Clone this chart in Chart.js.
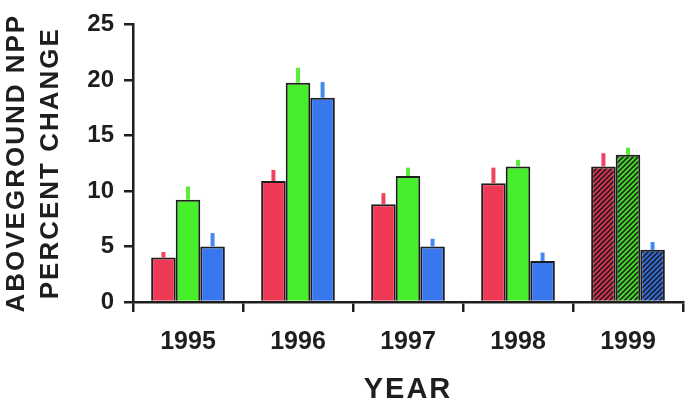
<!DOCTYPE html>
<html lang="en">
<head>
    <meta charset="UTF-8">
    <title>Aboveground NPP Percent Change</title>
    <script src="https://cdn.jsdelivr.net/npm/chart.js"></script>
    <style>
        body {
            margin: 0;
            padding: 0;
            background: #fff;
        }

        .wrap {
            width: 687px;
            height: 408px;
        }
    </style>
</head>
<body>
    <div class="wrap">
        <canvas id="npp-chart" width="687" height="408"></canvas>
    </div>

    <script>
        const years = ['1995', '1996', '1997', '1998', '1999'];
        const yTicks = [0, 5, 10, 15, 20, 25];

        const redValues = [4.0, 10.9, 8.8, 10.7, 12.2];
        const greenValues = [9.2, 19.75, 11.35, 12.2, 13.25];
        const blueValues = [5.0, 18.4, 5.0, 3.7, 4.7];

        // upper error only
        const redErrors = [0.5, 1.0, 1.0, 1.4, 1.2];
        const greenErrors = [1.2, 1.35, 0.75, 0.6, 0.65];
        const blueErrors = [1.2, 1.4, 0.7, 0.75, 0.7];

        const hatchedYear = '1999';
        const ink = '#1e1e1e';

        function hatch(color) {
            const size = 5;
            const c = document.createElement('canvas');
            c.width = size;
            c.height = size;
            const g = c.getContext('2d');
            g.fillStyle = color;
            g.fillRect(0, 0, size, size);
            g.strokeStyle = 'rgba(25, 20, 25, 0.9)';
            g.lineWidth = 1.6;
            g.beginPath();
            g.moveTo(-1, size + 1);
            g.lineTo(size + 1, -1);
            g.moveTo(-1, 1);
            g.lineTo(1, -1);
            g.moveTo(size - 1, size + 1);
            g.lineTo(size + 1, size - 1);
            g.stroke();
            return g.createPattern(c, 'repeat');
        }

        function fills(color, hatchColor) {
            return years.map(y => y === hatchedYear ? hatch(hatchColor) : color);
        }

        const errorBars = {
            id: 'errorBars',
            afterDatasetsDraw(chart) {
                const ctx = chart.ctx;
                const yScale = chart.scales.y;
                chart.data.datasets.forEach((ds, i) => {
                    const meta = chart.getDatasetMeta(i);
                    meta.data.forEach((bar, j) => {
                        const top = yScale.getPixelForValue(ds.data[j] + ds.errors[j]);
                        ctx.save();
                        ctx.strokeStyle = ds.errorColor;
                        ctx.lineWidth = 4;
                        ctx.beginPath();
                        ctx.moveTo(bar.x, bar.y);
                        ctx.lineTo(bar.x, top);
                        ctx.stroke();
                        ctx.restore();
                    });
                });
            }
        };

        // axis titles are set a little wider than the tick labels
        const titleSpacing = {
            id: 'titleSpacing',
            beforeDraw(chart) {
                chart.ctx.letterSpacing = '2px';
            },
            beforeDatasetsDraw(chart) {
                chart.ctx.letterSpacing = '0px';
            }
        };

        const fontFamily = '"Liberation Sans", Arial, sans-serif';

        new Chart(document.getElementById('npp-chart'), {
            type: 'bar',
            data: {
                labels: years,
                datasets: [{
                    data: redValues,
                    errors: redErrors,
                    errorColor: '#ee4460',
                    backgroundColor: fills('#ef3a55', '#d8384f'),
                    borderColor: ink,
                    borderWidth: 2,
                }, {
                    data: greenValues,
                    errors: greenErrors,
                    errorColor: '#58ee3a',
                    backgroundColor: fills('#46ee2c', '#46de2c'),
                    borderColor: ink,
                    borderWidth: 2,
                }, {
                    data: blueValues,
                    errors: blueErrors,
                    errorColor: '#4488f0',
                    backgroundColor: fills('#3877ee', '#3470dc'),
                    borderColor: ink,
                    borderWidth: 2,
                }],
            },
            options: {
                responsive: false,
                animation: false,
                categoryPercentage: 0.67,
                barPercentage: 1.0,
                layout: {
                    padding: { top: 15, right: 4, left: 0, bottom: 0 }
                },
                plugins: {
                    legend: { display: false },
                    tooltip: { enabled: false },
                },
                scales: {
                    x: {
                        afterFit(scale) { scale.height = 106; },
                        border: { color: ink, width: 2.5, z: 1 },
                        grid: {
                            offset: true,
                            drawOnChartArea: false,
                            color: ink,
                            lineWidth: 2.5,
                            tickLength: 10,
                        },
                        ticks: {
                            color: ink,
                            padding: 15,
                            z: 1,
                            font: { family: fontFamily, size: 25, weight: 'bold' },
                        },
                        title: {
                            display: true,
                            text: 'YEAR',
                            color: ink,
                            padding: { top: 0, bottom: 1 },
                            font: { family: fontFamily, size: 29, weight: 'bold' },
                        },
                    },
                    y: {
                        min: 0,
                        max: 25,
                        afterFit(scale) { scale.width = 133; },
                        afterBuildTicks(scale) {
                            scale.ticks = yTicks.map(v => ({ value: v }));
                        },
                        border: { color: ink, width: 2.5, z: 1 },
                        grid: {
                            drawOnChartArea: false,
                            color: ink,
                            lineWidth: 2.5,
                            tickLength: 9,
                        },
                        ticks: {
                            color: ink,
                            padding: 10,
                            z: 1,
                            font: { family: fontFamily, size: 24, weight: 'bold' },
                        },
                        title: {
                            display: true,
                            text: ['ABOVEGROUND NPP', 'PERCENT CHANGE'],
                            color: ink,
                            padding: { top: 0, bottom: 0 },
                            font: { family: fontFamily, size: 26, weight: 'bold', lineHeight: 1.31 },
                        },
                    },
                },
            },
            plugins: [errorBars, titleSpacing],
        });
    </script>
</body>
</html>
